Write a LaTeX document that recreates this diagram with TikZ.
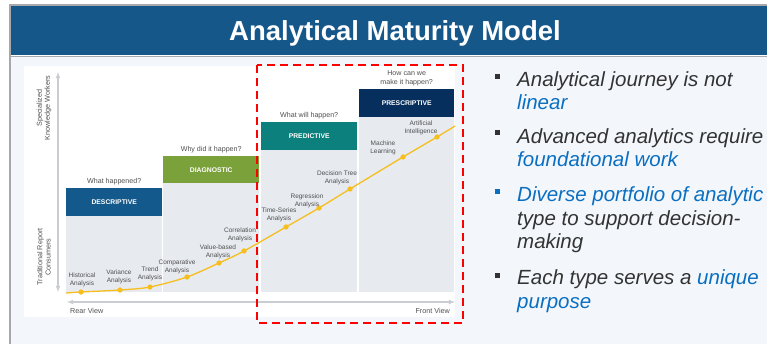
\documentclass[tikz,border=0pt]{standalone}
\usepackage{fontspec}
\setmainfont{Liberation Sans}
\usetikzlibrary{positioning}

\definecolor{barblue}{HTML}{16578A}
\definecolor{framegray}{HTML}{A6A8AB}
\definecolor{pagebg}{HTML}{F3F7FC}
\definecolor{bodygray}{HTML}{E7EAEF}
\definecolor{descblue}{HTML}{14598C}
\definecolor{diaggreen}{HTML}{7BA13A}
\definecolor{predteal}{HTML}{0B807C}
\definecolor{prescnavy}{HTML}{062F5E}
\definecolor{curveyellow}{HTML}{F6BE1E}
\definecolor{axisgray}{HTML}{C9CDD3}
\definecolor{lblgray}{HTML}{505050}
\definecolor{txtgray}{HTML}{333333}
\definecolor{hlblue}{HTML}{0B6FC1}

\tikzset{
  header/.style={fill=#1,text=white,font=\bfseries\fontsize{6.8}{8}\selectfont,
    minimum width=96pt,minimum height=28pt,inner sep=0pt,anchor=north west},
  question/.style={font=\fontsize{7.1}{8.4}\selectfont,text=lblgray,align=center,inner sep=0pt},
  stage/.style={circle,fill=curveyellow,inner sep=0pt,minimum size=5pt},
  steplabel/.style={font=\fontsize{6.5}{7.4}\selectfont,text=lblgray,align=center,inner sep=0pt},
  axislabel/.style={font=\fontsize{7.2}{8.2}\selectfont,text=lblgray,align=center,inner sep=0pt},
  axisline/.style={axisgray,line width=1.1pt,>=latex},
  bullettext/.style={font=\itshape\fontsize{20.5}{23.5}\selectfont,text=txtgray,
    align=left,anchor=base west,inner sep=0pt},
  bulletmark/.style={fill=#1,minimum size=5pt,inner sep=0pt},
  focus/.style={red,line width=2.8pt,dash pattern=on 8pt off 5pt}
}

\begin{document}
\begin{tikzpicture}[x=1pt,y=-1pt]
\useasboundingbox (0,0) rectangle (767,344);
% slide frame
\fill[white] (0,0) rectangle (767,344);
\fill[pagebg] (10,56) rectangle (767,344);
\fill[barblue] (10,5) rectangle (767,55.5);
\draw[framegray,line width=1.2pt] (10,344) -- (10,5) -- (767,5);
\draw[framegray,line width=1.2pt] (10,56.2) -- (767,56.2);
\node[text=white,font=\bfseries\fontsize{27.5}{30}\selectfont,anchor=base,inner sep=0pt] (title) at (395,41) {Analytical Maturity Model};

% chart area
\fill[white] (24,66) rectangle (455,317);
\fill[bodygray] (66,216) rectangle (162,292);
\fill[bodygray] (163,183) rectangle (259,292);
\fill[bodygray] (261,150) rectangle (357,292);
\fill[bodygray] (359,117) rectangle (454,292);

\node[header=descblue] (desc) at (66,188) {DESCRIPTIVE};
\node[header=diaggreen,minimum height=27pt] (diag) at (163,156) {DIAGNOSTIC};
\node[header=predteal] (pred) at (261,122) {PREDICTIVE};
\node[header=prescnavy,minimum width=95pt] (presc) at (359,89) {PRESCRIPTIVE};

\node[question,above=3pt of desc] (qdesc) {What happened?};
\node[question,above=3pt of diag] (qdiag) {Why did it happen?};
\node[question,above=3pt of pred] (qpred) {What will happen?};
\node[question,above=3pt of presc] (qpresc) {How can we\\make it happen?};

% axes
\coordinate (vtop) at (58,72);
\coordinate (vbot) at (58,292);
\coordinate (hleft) at (67,302);
\coordinate (hright) at (455,302);
\draw[axisline,<->] (vtop) -- (vbot);
\draw[axisline,<->] (hleft) -- (hright);
\node[axislabel,rotate=90] (top) at (44,108) {Specialized\\Knowledge Workers};
\node[axislabel,rotate=90] (bottom) at (44,257) {Traditional Report\\Consumers};
\node[axislabel,anchor=base west] (rear) at (70,313) {Rear View};
\node[axislabel,anchor=base east] (front) at (450,313) {Front View};

% maturity curve
\coordinate (c0) at (66,293);
\coordinate (c12) at (455,126);
\node[stage] (h1) at (81,292) {};
\node[stage] (h2) at (120,290) {};
\node[stage] (h3) at (150,287) {};
\node[stage] (h4) at (187,277) {};
\node[stage] (h5) at (219,263) {};
\node[stage] (h6) at (244,251) {};
\node[stage] (h7) at (286,227) {};
\node[stage] (h8) at (319,208) {};
\node[stage] (h9) at (350,189) {};
\node[stage] (h10) at (403,157) {};
\node[stage] (h11) at (437,137) {};
\draw[curveyellow,line width=1.3pt] plot[smooth,tension=0.5] coordinates {(c0) (h1) (h2) (h3) (h4) (h5) (h6) (h7) (h8) (h9) (h10) (h11) (c12)};
\foreach \n in {h1,h2,h3,h4,h5,h6,h7,h8,h9,h10,h11}
  \node[stage] at (\n) {};

\node[steplabel] (l1) at (82,280) {Historical\\Analysis};
\node[steplabel] (l2) at (119,277) {Variance\\Analysis};
\node[steplabel] (l3) at (150,274) {Trend\\Analysis};
\node[steplabel] (l4) at (177,267) {Comparative\\Analysis};
\node[steplabel] (l5) at (218,252) {Value-based\\Analysis};
\node[steplabel] (l6) at (240,235) {Correlation\\Analysis};
\node[steplabel] (l7) at (279,215) {Time-Series\\Analysis};
\node[steplabel] (l8) at (307,201) {Regression\\Analysis};
\node[steplabel] (l9) at (337,178) {Decision Tree\\Analysis};
\node[steplabel] (l10) at (383,148) {Machine\\Learning};
\node[steplabel] (l11) at (421,128) {Artificial\\Intelligence};

% focus on advanced analytics
\draw[focus] (257,65) rectangle (463,323);

% bullets (base = last line)
\node[bulletmark=txtgray] (b1) at (497.5,77) {};
\node[bullettext] (t1) at (517,110) {Analytical journey is not\\\textcolor{hlblue}{linear}};
\node[bulletmark=txtgray] (b2) at (497.5,133) {};
\node[bullettext] (t2) at (517,167) {Advanced analytics require\\\textcolor{hlblue}{foundational work}};
\node[bulletmark=hlblue] (b3) at (497.5,192) {};
\node[bullettext] (t3) at (517,249) {\textcolor{hlblue}{Diverse portfolio of analytic}\\type to support decision-\\making};
\node[bulletmark=txtgray] (b4) at (497.5,275) {};
\node[bullettext] (t4) at (517,308) {Each type serves a \textcolor{hlblue}{unique}\\\textcolor{hlblue}{purpose}};
\end{tikzpicture}
\end{document}
